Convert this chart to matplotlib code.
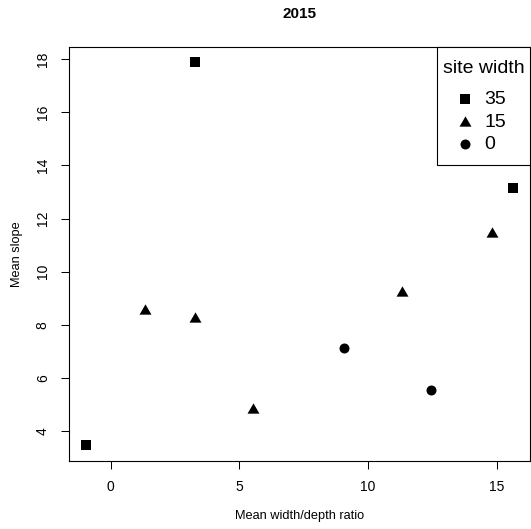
import matplotlib
matplotlib.use("Agg")
import matplotlib.pyplot as plt
from matplotlib.path import Path

plt.rcParams['font.family'] = ['Liberation Sans', 'DejaVu Sans']

# mean width/depth ratio and mean slope per site width group
site_widths = ["35", "15", "0"]
x_35 = [-0.96, 3.29, 15.63]
y_35 = [3.47, 17.88, 13.16]
x_15 = [1.33, 3.29, 5.52, 11.33, 14.83]
y_15 = [8.60, 8.28, 4.87, 9.26, 11.51]
x_0 = [9.05, 12.43]
y_0 = [7.14, 5.55]

x_ticks = [0, 5, 10, 15]
y_ticks = [4, 6, 8, 10, 12, 14, 16, 18]

# equilateral triangle, bbox centred like R's pch 17
tri = Path([(0, 0.433), (-0.5, -0.433), (0.5, -0.433), (0, 0.433)],
           [Path.MOVETO, Path.LINETO, Path.LINETO, Path.CLOSEPOLY])

fig = plt.figure(figsize=(5.31, 5.29), dpi=100)
ax = fig.add_axes([69 / 531, 1 - 460.5 / 529, 461 / 531, 413.5 / 529])

ax.scatter(x_35, y_35, marker='s', s=7.0 ** 2, color='black', linewidths=0, label=site_widths[0])
ax.scatter(x_15, y_15, marker=tri, s=8.6 ** 2, color='black', linewidths=0, label=site_widths[1])
ax.scatter(x_0, y_0, marker='o', s=7.2 ** 2, color='black', linewidths=0, label=site_widths[2])

ax.margins(x=0.04, y=0.04)
ax.set_xticks(x_ticks)
ax.set_yticks(y_ticks)
ax.set_yticklabels([str(v) for v in y_ticks], rotation=90, va='center')
ax.tick_params(direction='out', length=5.8, width=0.75, labelsize=10, color='black')
ax.tick_params(axis='x', pad=8.5)
ax.tick_params(axis='y', pad=8)
for sp in ax.spines.values():
    sp.set_linewidth(0.8)
    sp.set_color('black')

ax.set_xlabel("Mean width/depth ratio", fontsize=9.2)
ax.xaxis.label.set_va('center')
ax.xaxis.set_label_coords(0.5, (460.5 - 516) / 413.5)
ax.set_ylabel("Mean slope", fontsize=9.2)
ax.yaxis.label.set_va('center')
ax.yaxis.set_label_coords((17 - 69) / 461, 0.5)

ax.set_title("2015", fontsize=11, fontweight='bold', y=(460.5 - 13.7) / 413.5, va='center', pad=0)

# legend: title left-aligned with the entries, extra room above/below
leg = ax.legend(title="\nsite width", loc='upper right', bbox_to_anchor=(1, 1),
                borderaxespad=0, fontsize=14, title_fontsize=14, fancybox=False,
                edgecolor='black', framealpha=1, borderpad=0.3, labelspacing=0.25,
                handlelength=1.65, handletextpad=0.2, scatterpoints=1, alignment='left')
leg.get_title().set_linespacing(0.25)
leg._legend_handle_box.pad = 4.3
leg._legend_box.sep = 5.3
leg.get_frame().set_linewidth(0.8)

fig.savefig("out.png", dpi=100)
